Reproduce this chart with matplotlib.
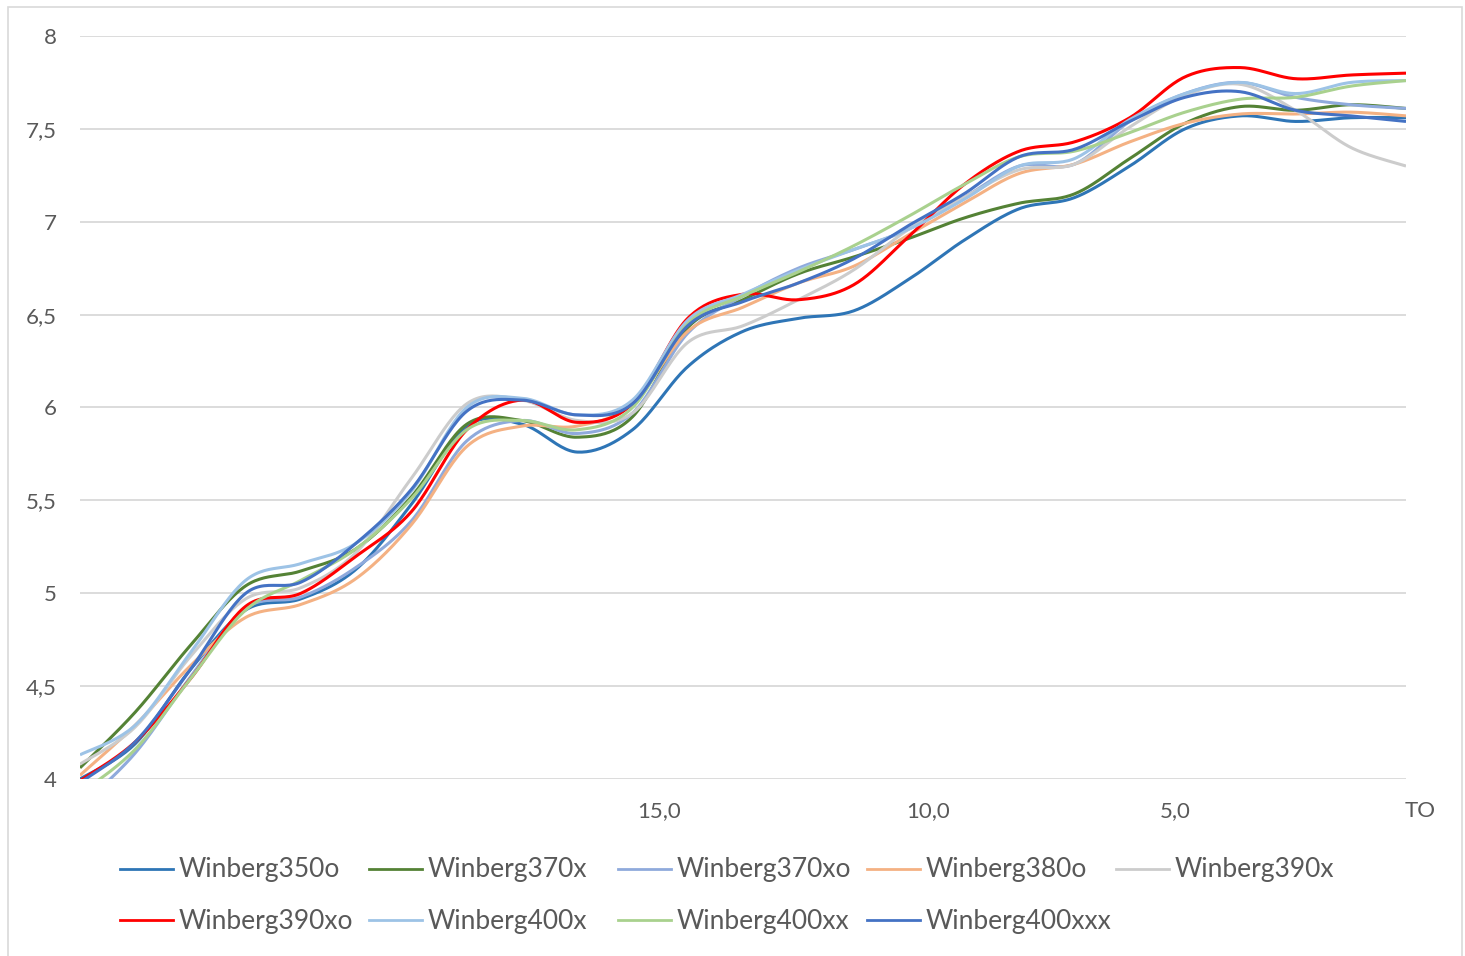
import numpy as np
import matplotlib
matplotlib.use("Agg")
import matplotlib.pyplot as plt
from matplotlib.lines import Line2D
from matplotlib.patches import Rectangle

plt.rcParams['font.family'] = ['Lato', 'DejaVu Sans']

# one value every category step (25 categories, left = furthest, right = TO)
names = ['Winberg350o', 'Winberg370x', 'Winberg370xo', 'Winberg380o', 'Winberg390x',
         'Winberg390xo', 'Winberg400x', 'Winberg400xx', 'Winberg400xxx']
colors = ['#2E75B6', '#548235', '#8FAADC', '#F4B183', '#CCCCCC',
          '#FF0000', '#9DC3E6', '#A9D18E', '#4472C4']

w350o = [4.00, 4.19, 4.59, 4.91, 4.97, 5.13, 5.48, 5.90, 5.91, 5.76, 5.88, 6.22, 6.41,
         6.48, 6.52, 6.69, 6.90, 7.07, 7.13, 7.30, 7.50, 7.57, 7.54, 7.56, 7.56]
w370x = [4.06, 4.36, 4.72, 5.04, 5.12, 5.24, 5.52, 5.91, 5.93, 5.84, 5.95, 6.43, 6.58,
         6.72, 6.81, 6.91, 7.02, 7.10, 7.15, 7.34, 7.53, 7.62, 7.60, 7.63, 7.61]
w370xo = [3.85, 4.14, 4.55, 4.92, 4.98, 5.14, 5.39, 5.82, 5.93, 5.86, 5.97, 6.40, 6.60,
          6.75, 6.85, 6.96, 7.13, 7.30, 7.31, 7.54, 7.69, 7.75, 7.67, 7.63, 7.61]
w380o = [4.02, 4.29, 4.61, 4.87, 4.94, 5.08, 5.37, 5.79, 5.90, 5.90, 6.02, 6.41, 6.54,
         6.67, 6.76, 6.93, 7.10, 7.26, 7.31, 7.43, 7.53, 7.58, 7.58, 7.59, 7.57]
w390x = [4.08, 4.28, 4.66, 4.97, 5.03, 5.22, 5.62, 6.02, 6.04, 5.93, 5.97, 6.35, 6.44,
         6.58, 6.74, 6.96, 7.13, 7.28, 7.31, 7.51, 7.68, 7.74, 7.60, 7.40, 7.30]
w390xo = [3.99, 4.20, 4.54, 4.93, 5.00, 5.20, 5.44, 5.88, 6.04, 5.92, 6.02, 6.48, 6.61,
          6.58, 6.66, 6.92, 7.20, 7.38, 7.43, 7.56, 7.78, 7.83, 7.77, 7.79, 7.80]
w400x = [4.13, 4.29, 4.68, 5.07, 5.16, 5.27, 5.55, 6.00, 6.05, 5.96, 6.04, 6.47, 6.61,
         6.74, 6.85, 6.96, 7.12, 7.30, 7.34, 7.55, 7.69, 7.75, 7.69, 7.75, 7.76]
w400xx = [3.92, 4.16, 4.54, 4.91, 5.07, 5.24, 5.51, 5.88, 5.93, 5.88, 6.00, 6.45, 6.60,
          6.73, 6.87, 7.03, 7.20, 7.35, 7.38, 7.48, 7.59, 7.66, 7.67, 7.73, 7.76]
w400xxx = [3.98, 4.20, 4.59, 5.00, 5.06, 5.27, 5.56, 5.98, 6.04, 5.96, 6.02, 6.44, 6.57,
           6.67, 6.80, 6.98, 7.15, 7.35, 7.39, 7.54, 7.67, 7.70, 7.60, 7.57, 7.54]
series = [w350o, w370x, w370xo, w380o, w390x, w390xo, w400x, w400xx, w400xxx]

x_labels = ['15,0', '10,0', '5,0', 'TO']
x_label_pos = [10.48, 15.35, 19.82, 24.25]
y_ticks = [4, 4.5, 5, 5.5, 6, 6.5, 7, 7.5, 8]


def smooth(x, y, n=24):
    # Excel style smoothed line: Catmull-Rom through every point
    p = np.column_stack([x, y]).astype(float)
    p = np.vstack([p[0], p, p[-1]])
    t = np.linspace(0, 1, n, endpoint=False)[:, None]
    out = []
    for i in range(1, len(p) - 2):
        p0, p1, p2, p3 = p[i - 1], p[i], p[i + 1], p[i + 2]
        c1 = p1 + (p2 - p0) / 6
        c2 = p2 - (p3 - p1) / 6
        seg = ((1 - t) ** 3) * p1 + 3 * ((1 - t) ** 2) * t * c1 + 3 * (1 - t) * t ** 2 * c2 + t ** 3 * p2
        out.append(seg)
    out.append(p[-2][None, :])
    out = np.vstack(out)
    return out[:, 0], out[:, 1]


fig = plt.figure(figsize=(14.65, 9.56), dpi=100)
fig.patch.set_facecolor('white')
fig.add_artist(Rectangle((8 / 1465, -0.05), 1454 / 1465, 1.05 - 7 / 956, transform=fig.transFigure,
                         fill=False, edgecolor='#D9D9D9', linewidth=1.2))

ax = fig.add_axes([80 / 1465, 1 - 779 / 956, 1326 / 1465, 743 / 956])
x = np.arange(len(w350o))
for vals, c in zip(series, colors):
    xs, ys = smooth(x, vals)
    ax.plot(xs, ys, color=c, lw=2.2, solid_capstyle='butt')

ax.set_xlim(0, len(x) - 1)
ax.set_ylim(4, 8)
for s in ax.spines.values():
    s.set_visible(False)
ax.set_yticks(y_ticks)
ax.set_yticklabels([('%g' % v).replace('.', ',') for v in y_ticks])
ax.set_xticks([])
ax.tick_params(axis='y', length=0, pad=17, labelsize=16, labelcolor='#595959')
ax.yaxis.grid(True, color='#D9D9D9', lw=1.3)
ax.set_axisbelow(True)

for pos, lab in zip(x_label_pos, x_labels):
    ax.text(pos, -0.043, lab, transform=ax.get_xaxis_transform(), ha='center', va='center',
            fontsize=16, color='#595959', clip_on=False)

# legend, 5 columns in two rows like Excel
for i, (name, c) in enumerate(zip(names, colors)):
    col, row = i % 5, i // 5
    x0 = 120 + col * 249
    yc = 869 + row * 51
    fig.add_artist(Line2D([x0 / 1465, (x0 + 53) / 1465], [1 - yc / 956, 1 - yc / 956],
                          color=c, lw=2.0, transform=fig.transFigure))
    fig.text((x0 + 59) / 1465, 1 - (yc + 1) / 956, name, ha='left', va='center',
             fontsize=19, color='#595959')

fig.savefig('out.png', dpi=100, facecolor='white')
